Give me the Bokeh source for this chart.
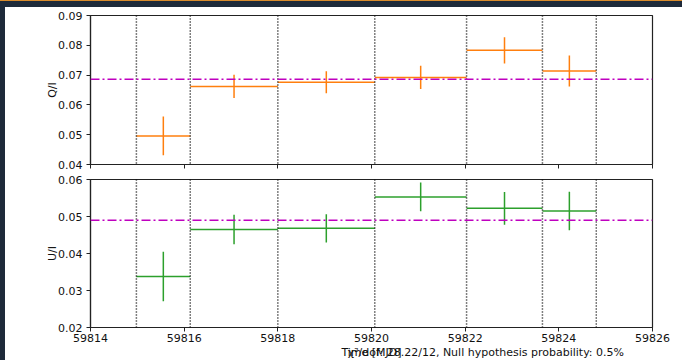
from bokeh.plotting import figure
from bokeh.layouts import column, row
from bokeh.models import (Span, FixedTicker, NumeralTickFormatter, Div,
                          Range1d, Spacer, ColumnDataSource,
                          CustomLabelingPolicy)
from bokeh.embed import file_html
from bokeh.resources import INLINE

# Time bins (MJD)
t_start = [59814.98, 59816.13, 59818.00, 59820.07, 59822.03, 59823.65]
t_stop = [59816.13, 59818.00, 59820.07, 59822.03, 59823.65, 59824.80]

# Normalised Stokes parameters per bin
q_frac = [0.0496, 0.0662, 0.0676, 0.0692, 0.0783, 0.0714]
q_err = [0.0065, 0.0039, 0.0037, 0.0039, 0.0044, 0.0052]
u_frac = [0.0338, 0.0465, 0.0468, 0.0553, 0.0522, 0.0515]
u_err = [0.0067, 0.0040, 0.0038, 0.0039, 0.0044, 0.0052]

# Constant-model averages
q_mean = 0.0686
u_mean = 0.0490

x_ticks = [59814, 59816, 59818, 59820, 59822, 59824, 59826]
q_ticks = [0.04, 0.05, 0.06, 0.07, 0.08, 0.09]
u_ticks = [0.02, 0.03, 0.04, 0.05, 0.06]

stats_text = "\u03c7\u00b2/dof: 28.22/12, Null hypothesis probability: 0.5%"

FONT = "DejaVu Sans"
NAVY = "#1e2a3a"
ORANGE = "#ff7f0e"
GREEN = "#2ca02c"
MAGENTA = "#bf00bf"

# keeps tick marks but drops every tick label (shared x axis)
no_labels = CustomLabelingPolicy(code="""
    const n = indices.size
    for (let i = 0; i < n; i++) indices.unset(i)
    return indices
""")


def panel(vals, errs, mean, color, ylabel, yrange, yticks, bottom, border_top, border_bottom, frame_h):
    p = figure(output_backend="svg", toolbar_location=None,
               frame_width=562, frame_height=frame_h,
               min_border_left=85, min_border_right=30,
               min_border_top=border_top, min_border_bottom=border_bottom,
               x_range=Range1d(59814, 59826), y_range=Range1d(*yrange))
    p.background_fill_color = "white"
    p.border_fill_color = "white"
    p.outline_line_color = "#222222"
    p.outline_line_width = 1.2
    p.grid.visible = False

    mid = [(a + b) / 2 for a, b in zip(t_start, t_stop)]
    src = ColumnDataSource(dict(
        x0=t_start, x1=t_stop, xm=mid, y=vals,
        lo=[v - e for v, e in zip(vals, errs)],
        hi=[v + e for v, e in zip(vals, errs)]))

    # bin edges
    for edge in sorted(set(t_start + t_stop)):
        p.add_layout(Span(location=edge, dimension="height", line_color="black",
                          line_width=1.5, line_dash="1 2"))

    p.segment(x0="x0", x1="x1", y0="y", y1="y", source=src,
              line_color=color, line_width=1.5)
    p.segment(x0="xm", x1="xm", y0="lo", y1="hi", source=src,
              line_color=color, line_width=1.5)

    p.add_layout(Span(location=mean, dimension="width", line_color=MAGENTA,
                      line_width=1.5, line_dash="9 3 2 3"))

    for ax in (p.xaxis[0], p.yaxis[0]):
        ax.major_tick_out = 4
        ax.major_tick_in = 0
        ax.minor_tick_line_color = None
        ax.axis_line_color = "#222222"
        ax.axis_line_width = 1.2
        ax.major_tick_line_color = "#222222"
        ax.major_label_text_font = FONT
        ax.major_label_text_font_size = "11px"
        ax.major_label_text_color = "#111111"
        ax.axis_label_text_font = FONT
        ax.axis_label_text_font_size = "11px"
        ax.axis_label_text_font_style = "normal"
        ax.axis_label_text_color = "#111111"

    p.yaxis.ticker = FixedTicker(ticks=yticks)
    p.yaxis.formatter = NumeralTickFormatter(format="0.00")
    p.yaxis.major_label_standoff = 4
    p.yaxis.axis_label = ylabel
    p.yaxis.axis_label_standoff = -4

    p.xaxis.ticker = FixedTicker(ticks=x_ticks)
    p.xaxis.formatter = NumeralTickFormatter(format="0")
    if bottom:
        p.xaxis.major_label_standoff = 2
        p.xaxis.axis_label = "Time [MJD]"
        p.xaxis.axis_label_standoff = 1
    else:
        p.xaxis.major_label_text_font_size = "0px"
        p.xaxis.major_label_standoff = 0
        p.xaxis.major_label_policy = no_labels
    return p


p1 = panel(q_frac, q_err, q_mean, ORANGE, "Q/I", (0.04, 0.09), q_ticks,
           False, 8, 8, 149)
p2 = panel(u_frac, u_err, u_mean, GREEN, "U/I", (0.02, 0.06), u_ticks,
           True, 7, 33, 148)

# fit statistics, sharing the row of the x-axis title
stats = Div(text=stats_text, width=677, height=14, styles={
    "margin-top": "-15px", "text-align": "right", "padding-right": "63px",
    "box-sizing": "border-box", "font-family": FONT, "font-size": "11px",
    "line-height": "14px", "color": "#111111", "white-space": "nowrap"})

top_strip = Spacer(width=682, height=7, styles={
    "background": "linear-gradient(#d98b2b 0px, #d98b2b 1px, %s 1px)" % NAVY})
left_strip = Spacer(width=5, height=353, styles={"background-color": NAVY})

layout = column(top_strip, row(left_strip, column(p1, p2, stats)))

open("out.html", "w").write(file_html(layout, INLINE))
